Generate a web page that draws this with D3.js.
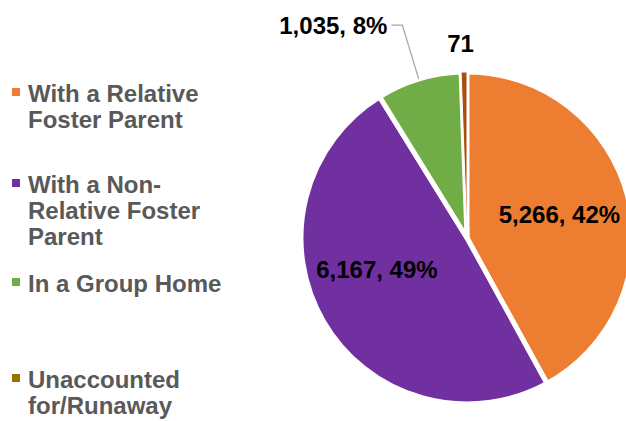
<!DOCTYPE html>
<html>
<head>
<meta charset="utf-8">
<script src="https://cdn.jsdelivr.net/npm/d3@7"></script>
<style>
  body { margin: 0; background: #fff; }
  svg { display: block; font-family: "Liberation Sans", Arial, sans-serif; font-weight: bold; }
</style>
</head>
<body>
<div id="chart"></div>
<script>
// Placement data
const categories = ["With a Relative Foster Parent", "With a Non-Relative Foster Parent", "In a Group Home", "Unaccounted for/Runaway"];
const legendLines = [["With a Relative", "Foster Parent"], ["With a Non-", "Relative Foster", "Parent"], ["In a Group Home"], ["Unaccounted", "for/Runaway"]];
const counts = [5266, 6167, 1035, 71];
const percents = [42, 49, 8, null];
const colors = ["#ED7D31", "#7030A0", "#70AD47", "#A8500F"];
const legendColors = ["#ED7D31", "#7030A0", "#70AD47", "#997300"];

const width = 626, height = 421;
const cx = 467, cy = 238, radius = 166;

const svg = d3.select("#chart").append("svg")
    .attr("width", width)
    .attr("height", height);

// Legend
const legendTop = [102, 193, 292, 388];
const legend = svg.append("g").attr("class", "legend");
legendLines.forEach((lines, i) => {
  let g = legend.append("g");
  g.append("rect")
      .attr("x", 12)
      .attr("y", legendTop[i] - 14)
      .attr("width", 8)
      .attr("height", 8)
      .attr("fill", legendColors[i]);
  g.append("text")
      .attr("x", 28)
      .attr("y", legendTop[i])
      .attr("fill", "#595959")
      .style("font-size", "24px")
      .selectAll("tspan")
      .data(lines)
      .enter().append("tspan")
      .attr("x", 28)
      .attr("dy", (d, j) => j === 0 ? 0 : 26)
      .text(d => d);
});

// Pie
const data = counts.map((c, i) => ({ name: categories[i], value: c, pct: percents[i], color: colors[i] }));
const pie = d3.pie().sort(null).value(d => d.value);
const arcs = pie(data);
const arc = d3.arc().innerRadius(0).outerRadius(radius);

const g = svg.append("g").attr("transform", `translate(${cx},${cy})`);

g.selectAll(".slice")
    .data(arcs)
    .enter().append("path")
    .attr("class", "slice")
    .attr("d", arc)
    .attr("fill", d => d.data.color)
    .attr("stroke", "#fff")
    .attr("stroke-width", d => d.index === 3 ? 1 : 5)
    .attr("stroke-linejoin", "round");

// Put tiny slice on top so its sliver stays visible
g.selectAll(".slice").filter(d => d.index === 3).raise();

const fmt = d3.format(",");
const mid = d => (d.startAngle + d.endAngle) / 2;
const polar = (a, r) => [r * Math.sin(a), -r * Math.cos(a)];

// Inside labels (small angle nudge, like the original)
const labelNudge = [0, 11 * Math.PI / 180];
arcs.filter(d => d.index < 2).forEach(d => {
  let p = polar(mid(d) + labelNudge[d.index], radius * 0.575);
  g.append("text")
      .attr("x", p[0])
      .attr("y", p[1])
      .attr("text-anchor", "middle")
      .attr("dominant-baseline", "central")
      .style("font-size", "24px")
      .attr("fill", "#000")
      .text(fmt(d.data.value) + ", " + d.data.pct + "%");
});

// Group home label with leader line
let gd = arcs[2];
let p0 = polar(mid(gd), radius);
let p1 = polar(mid(gd), radius * 1.34);
let p2 = [p1[0] - 11, p1[1]];
g.append("polyline")
    .attr("points", [p0, p1, p2].map(p => p.join(",")).join(" "))
    .attr("fill", "none")
    .attr("stroke", "#A6A6A6")
    .attr("stroke-width", 1.3);
g.append("text")
    .attr("x", p2[0] - 4)
    .attr("y", p2[1])
    .attr("text-anchor", "end")
    .attr("dominant-baseline", "central")
    .style("font-size", "24px")
    .text(fmt(gd.data.value) + ", " + gd.data.pct + "%");

// Runaway label
let rd = arcs[3];
let pr = polar(mid(rd), radius * 1.17);
g.append("text")
    .attr("x", pr[0] - 3)
    .attr("y", pr[1])
    .attr("text-anchor", "middle")
    .attr("dominant-baseline", "central")
    .style("font-size", "24px")
    .text(fmt(rd.data.value));
</script>
</body>
</html>
